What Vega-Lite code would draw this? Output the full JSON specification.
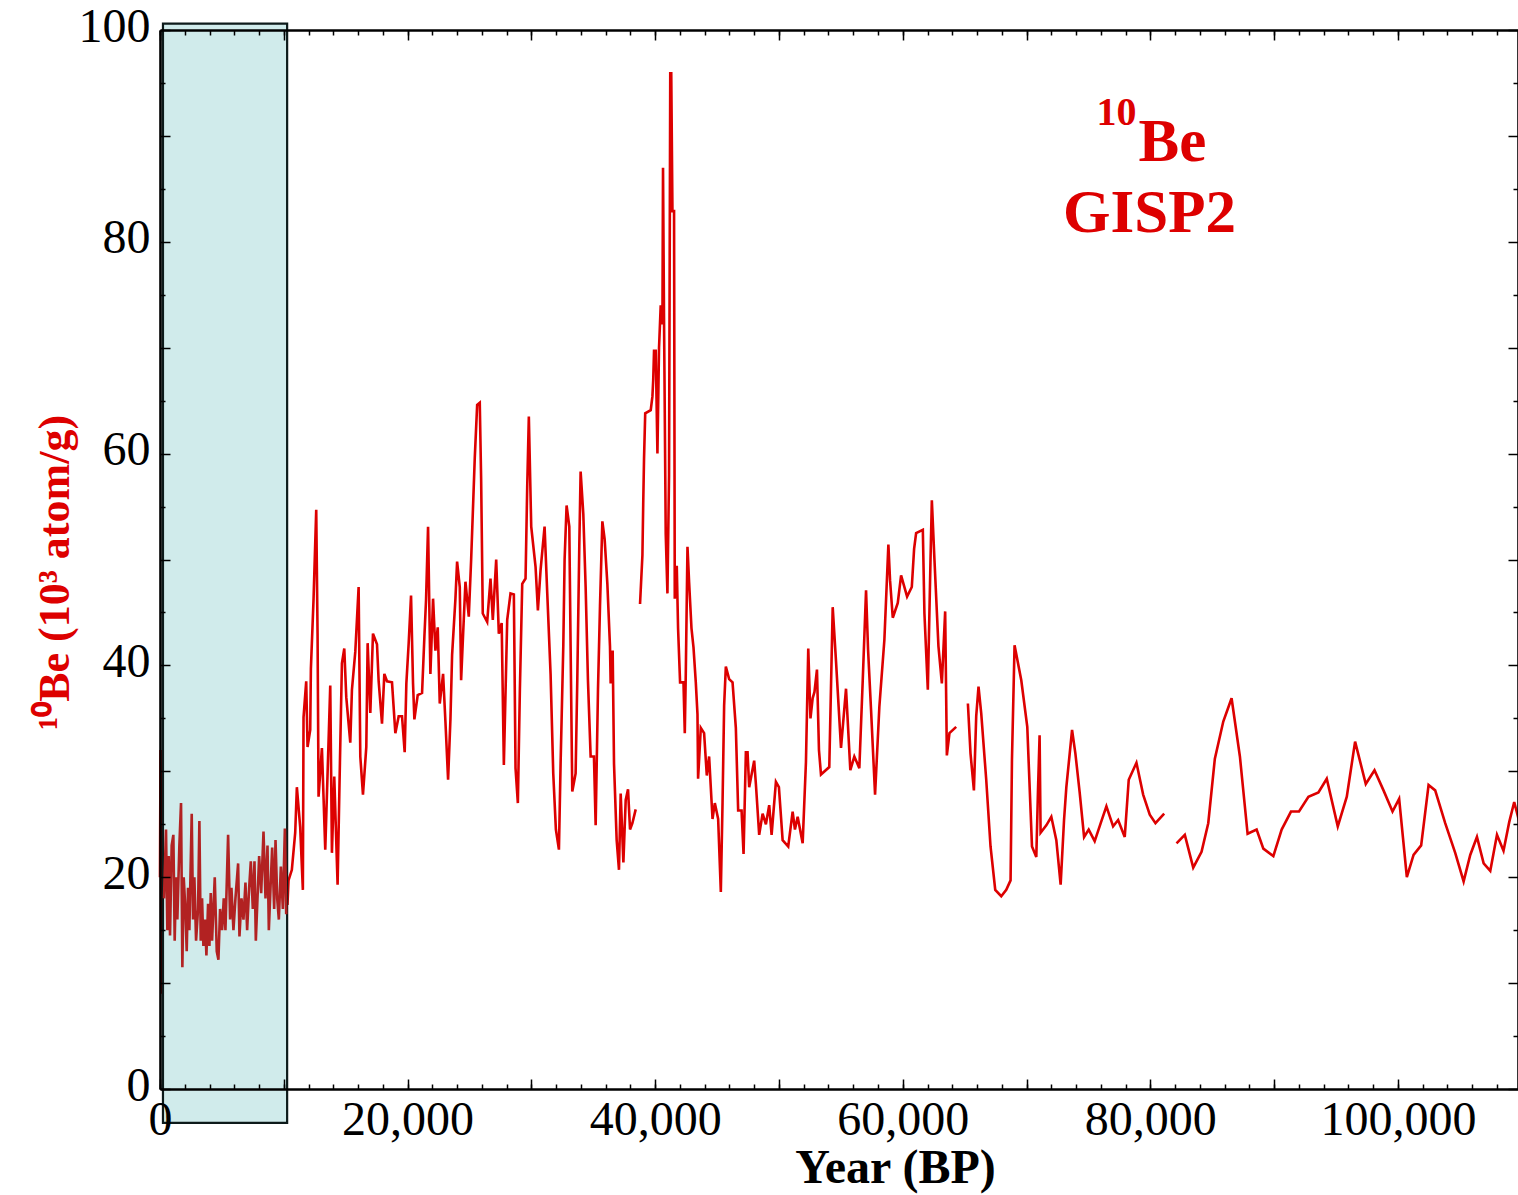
{
  "$schema": "https://vega.github.io/schema/vega-lite/v6.json",
  "width": 1358,
  "height": 1059,
  "autosize": {"type": "none"},
  "padding": {"left": 160, "top": 30, "right": 0, "bottom": 106},
  "background": "white",
  "config": {"view": {"stroke": null}},
  "datasets": {
    "gisp2": [
      {"year":0,"be":20,"seg":1},{"year":40,"be":32,"seg":1},{"year":80,"be":24,"seg":1},{"year":120,"be":9,"seg":1},{"year":160,"be":14,"seg":1},{"year":200,"be":18,"seg":1},{"year":5000,"be":18,"seg":1},{"year":10300,"be":17.5,"seg":1},
      {"year":10381,"be":19.7,"seg":1},{"year":10651,"be":20.7,"seg":1},{"year":10922,"be":24.2,"seg":1},{"year":11056,"be":28.5,"seg":1},{"year":11326,"be":24.7,"seg":1},{"year":11541,"be":18.8,"seg":1},{"year":11595,"be":35.1,"seg":1},{"year":11811,"be":38.5,"seg":1},{"year":11919,"be":32.3,"seg":1},{"year":12135,"be":33.9,"seg":1},{"year":12189,"be":39.7,"seg":1},{"year":12405,"be":46.3,"seg":1},{"year":12620,"be":54.7,"seg":1},{"year":12728,"be":43,"seg":1},{"year":12809,"be":27.6,"seg":1},{"year":13079,"be":32.2,"seg":1},{"year":13215,"be":27.4,"seg":1},{"year":13349,"be":22.6,"seg":1},{"year":13753,"be":38.1,"seg":1},{"year":13888,"be":22.3,"seg":1},{"year":14077,"be":29.5,"seg":1},{"year":14346,"be":19.3,"seg":1},{"year":14507,"be":29.2,"seg":1},{"year":14696,"be":40.2,"seg":1},{"year":14886,"be":41.6,"seg":1},{"year":15047,"be":37,"seg":1},{"year":15371,"be":32.7,"seg":1},{"year":15505,"be":37.7,"seg":1},{"year":15776,"be":41.3,"seg":1},{"year":16045,"be":47.4,"seg":1},{"year":16180,"be":31.4,"seg":1},{"year":16396,"be":27.8,"seg":1},{"year":16665,"be":32.3,"seg":1},{"year":16773,"be":42.1,"seg":1},{"year":16989,"be":35.5,"seg":1},{"year":17205,"be":43,"seg":1},{"year":17529,"be":42,"seg":1},{"year":17663,"be":38.5,"seg":1},{"year":17933,"be":34.5,"seg":1},{"year":18122,"be":39.2,"seg":1},{"year":18337,"be":38.5,"seg":1},{"year":18741,"be":38.4,"seg":1},{"year":19012,"be":33.6,"seg":1},{"year":19281,"be":35.2,"seg":1},{"year":19550,"be":35.2,"seg":1},{"year":19765,"be":31.8,"seg":1},{"year":19901,"be":38.3,"seg":1},{"year":20089,"be":42.1,"seg":1},{"year":20279,"be":46.6,"seg":1},{"year":20440,"be":38.3,"seg":1},{"year":20549,"be":34.9,"seg":1},{"year":20818,"be":37.2,"seg":1},{"year":21169,"be":37.4,"seg":1},{"year":21358,"be":42.7,"seg":1},{"year":21492,"be":46.2,"seg":1},{"year":21654,"be":53.1,"seg":1},{"year":21843,"be":39.2,"seg":1},{"year":22058,"be":46.3,"seg":1},{"year":22248,"be":41.4,"seg":1},{"year":22436,"be":43.6,"seg":1},{"year":22599,"be":36.4,"seg":1},{"year":22868,"be":39.2,"seg":1},{"year":23057,"be":34.7,"seg":1},{"year":23272,"be":29.2,"seg":1},{"year":23461,"be":34.9,"seg":1},{"year":23596,"be":41,"seg":1},{"year":23866,"be":46.3,"seg":1},{"year":24000,"be":49.8,"seg":1},{"year":24216,"be":47.4,"seg":1},{"year":24325,"be":38.6,"seg":1},{"year":24487,"be":43,"seg":1},{"year":24675,"be":47.9,"seg":1},{"year":24944,"be":44.6,"seg":1},{"year":25135,"be":50,"seg":1},{"year":25297,"be":55.3,"seg":1},{"year":25427,"be":59.6,"seg":1},{"year":25620,"be":64.6,"seg":1},{"year":25831,"be":64.8,"seg":1},{"year":25940,"be":57.7,"seg":1},{"year":26074,"be":44.9,"seg":1},{"year":26430,"be":44.1,"seg":1},{"year":26697,"be":48.2,"seg":1},{"year":26885,"be":44.3,"seg":1},{"year":27158,"be":50,"seg":1},{"year":27370,"be":43,"seg":1},{"year":27600,"be":44,"seg":1},{"year":27777,"be":30.6,"seg":1},{"year":28048,"be":44.3,"seg":1},{"year":28315,"be":46.8,"seg":1},{"year":28585,"be":46.7,"seg":1},{"year":28720,"be":30.3,"seg":1},{"year":28908,"be":27,"seg":1},{"year":29071,"be":37.7,"seg":1},{"year":29261,"be":47.7,"seg":1},{"year":29529,"be":48.2,"seg":1},{"year":29664,"be":56.9,"seg":1},{"year":29795,"be":63.5,"seg":1},{"year":29988,"be":53.1,"seg":1},{"year":30338,"be":49.3,"seg":1},{"year":30526,"be":45.2,"seg":1},{"year":30742,"be":49,"seg":1},{"year":31066,"be":53.1,"seg":1},{"year":31283,"be":46.8,"seg":1},{"year":31551,"be":39.2,"seg":1},{"year":31767,"be":29.8,"seg":1},{"year":31981,"be":24.5,"seg":1},{"year":32225,"be":22.6,"seg":1},{"year":32360,"be":30.7,"seg":1},{"year":32578,"be":41.8,"seg":1},{"year":32684,"be":50,"seg":1},{"year":32845,"be":55.1,"seg":1},{"year":33064,"be":53.1,"seg":1},{"year":33169,"be":41.8,"seg":1},{"year":33304,"be":28.1,"seg":1},{"year":33574,"be":29.8,"seg":1},{"year":33709,"be":38.6,"seg":1},{"year":33870,"be":51.2,"seg":1},{"year":33978,"be":58.3,"seg":1},{"year":34195,"be":54.3,"seg":1},{"year":34383,"be":47.4,"seg":1},{"year":34570,"be":38.6,"seg":1},{"year":34787,"be":31.4,"seg":1},{"year":35055,"be":31.4,"seg":1},{"year":35192,"be":24.9,"seg":1},{"year":35381,"be":37.7,"seg":1},{"year":35543,"be":45.6,"seg":1},{"year":35734,"be":53.6,"seg":1},{"year":35920,"be":51.9,"seg":1},{"year":36138,"be":47.7,"seg":1},{"year":36350,"be":41.8,"seg":1},{"year":36405,"be":38.3,"seg":1},{"year":36567,"be":41.4,"seg":1},{"year":36676,"be":30.7,"seg":1},{"year":36890,"be":23.5,"seg":1},{"year":37077,"be":20.7,"seg":1},{"year":37214,"be":27.9,"seg":1},{"year":37432,"be":21.4,"seg":1},{"year":37620,"be":27.3,"seg":1},{"year":37807,"be":28.3,"seg":1},{"year":37970,"be":24.5,"seg":1},{"year":38160,"be":25.1,"seg":1},{"year":38428,"be":26.4,"seg":1},
      {"year":38777,"be":45.8,"seg":2},{"year":38970,"be":50.4,"seg":2},{"year":39034,"be":55.2,"seg":2},{"year":39100,"be":59.5,"seg":2},{"year":39196,"be":63.8,"seg":2},{"year":39641,"be":64.1,"seg":2},{"year":39778,"be":65.4,"seg":2},{"year":39843,"be":67,"seg":2},{"year":39908,"be":69.7,"seg":2},{"year":40046,"be":69.7,"seg":2},{"year":40183,"be":60,"seg":2},{"year":40312,"be":70,"seg":2},{"year":40448,"be":74,"seg":2},{"year":40586,"be":72.2,"seg":2},{"year":40634,"be":87,"seg":2},{"year":40715,"be":72.8,"seg":2},{"year":40853,"be":52.4,"seg":2},{"year":40991,"be":46.8,"seg":2},{"year":41121,"be":58,"seg":2},{"year":41218,"be":95.9,"seg":2},{"year":41299,"be":95.9,"seg":2},{"year":41396,"be":82.9,"seg":2},{"year":41526,"be":82.9,"seg":2},{"year":41583,"be":46.3,"seg":2},{"year":41745,"be":49.4,"seg":2},{"year":41850,"be":43.5,"seg":2},{"year":42012,"be":38.4,"seg":2},{"year":42287,"be":38.4,"seg":2},{"year":42392,"be":33.6,"seg":2},{"year":42473,"be":39.2,"seg":2},{"year":42610,"be":51.2,"seg":2},{"year":42740,"be":47.9,"seg":2},{"year":42934,"be":43.5,"seg":2},{"year":43096,"be":41.7,"seg":2},{"year":43282,"be":38.4,"seg":2},{"year":43418,"be":35.4,"seg":2},{"year":43467,"be":29.3,"seg":2},{"year":43686,"be":34.1,"seg":2},{"year":43953,"be":33.6,"seg":2},{"year":44171,"be":29.6,"seg":2},{"year":44358,"be":31.4,"seg":2},{"year":44633,"be":25.5,"seg":2},{"year":44819,"be":27,"seg":2},{"year":45087,"be":25.5,"seg":2},{"year":45304,"be":18.6,"seg":2},{"year":45442,"be":27,"seg":2},{"year":45571,"be":36.2,"seg":2},{"year":45709,"be":39.9,"seg":2},{"year":45976,"be":38.7,"seg":2},{"year":46251,"be":38.4,"seg":2},{"year":46517,"be":34.1,"seg":2},{"year":46704,"be":26.3,"seg":2},{"year":46979,"be":26.3,"seg":2},{"year":47140,"be":22.2,"seg":2},{"year":47327,"be":31.8,"seg":2},{"year":47463,"be":31.8,"seg":2},{"year":47594,"be":28.5,"seg":2},{"year":47999,"be":31,"seg":2},{"year":48136,"be":28.8,"seg":2},{"year":48403,"be":24,"seg":2},{"year":48678,"be":26,"seg":2},{"year":48945,"be":25,"seg":2},{"year":49212,"be":26.8,"seg":2},{"year":49406,"be":24,"seg":2},{"year":49754,"be":29,"seg":2},{"year":49996,"be":28.5,"seg":2},{"year":50296,"be":23.5,"seg":2},{"year":50749,"be":22.9,"seg":2},{"year":51105,"be":26.2,"seg":2},{"year":51291,"be":24.5,"seg":2},{"year":51510,"be":25.7,"seg":2},{"year":51914,"be":23.2,"seg":2},{"year":52181,"be":30.9,"seg":2},{"year":52367,"be":41.6,"seg":2},{"year":52545,"be":35,"seg":2},{"year":52723,"be":36.9,"seg":2},{"year":52869,"be":37.5,"seg":2},{"year":53070,"be":39.6,"seg":2},{"year":53232,"be":32,"seg":2},{"year":53394,"be":29.7,"seg":2},{"year":54065,"be":30.4,"seg":2},{"year":54341,"be":45.5,"seg":2},{"year":54608,"be":40.4,"seg":2},{"year":55012,"be":32.2,"seg":2},{"year":55417,"be":37.8,"seg":2},{"year":55765,"be":30.1,"seg":2},{"year":56088,"be":31.4,"seg":2},{"year":56493,"be":30.3,"seg":2},{"year":56768,"be":38.6,"seg":2},{"year":57035,"be":47.1,"seg":2},{"year":57197,"be":41.5,"seg":2},{"year":57439,"be":35.8,"seg":2},{"year":57763,"be":27.8,"seg":2},{"year":58111,"be":36.1,"seg":2},{"year":58515,"be":42.4,"seg":2},{"year":58839,"be":51.4,"seg":2},{"year":58976,"be":48,"seg":2},{"year":59194,"be":44.5,"seg":2},{"year":59598,"be":45.9,"seg":2},{"year":59866,"be":48.5,"seg":2},{"year":60351,"be":46.5,"seg":2},{"year":60731,"be":47.4,"seg":2},{"year":60917,"be":51,"seg":2},{"year":61080,"be":52.5,"seg":2},{"year":61622,"be":52.8,"seg":2},{"year":61751,"be":44.9,"seg":2},{"year":62026,"be":37.7,"seg":2},{"year":62237,"be":49.7,"seg":2},{"year":62350,"be":55.6,"seg":2},{"year":62560,"be":50,"seg":2},{"year":62884,"be":41.8,"seg":2},{"year":63159,"be":38.3,"seg":2},{"year":63426,"be":45.1,"seg":2},{"year":63563,"be":31.5,"seg":2},{"year":63773,"be":33.6,"seg":2},{"year":64316,"be":34.2,"seg":2},
      {"year":65262,"be":36.4,"seg":3},{"year":65473,"be":31.7,"seg":3},{"year":65748,"be":28.2,"seg":3},{"year":65934,"be":35.2,"seg":3},{"year":66120,"be":38,"seg":3},{"year":66338,"be":35.5,"seg":3},{"year":66743,"be":29.2,"seg":3},{"year":67091,"be":22.9,"seg":3},{"year":67471,"be":18.8,"seg":3},{"year":67956,"be":18.2,"seg":3},{"year":68361,"be":18.8,"seg":3},{"year":68709,"be":19.7,"seg":3},{"year":68822,"be":31.1,"seg":3},{"year":69032,"be":41.9,"seg":3},{"year":69574,"be":38.6,"seg":3},{"year":70059,"be":34.2,"seg":3},{"year":70440,"be":22.9,"seg":3},{"year":70788,"be":21.9,"seg":3},{"year":70925,"be":28.2,"seg":3},{"year":71054,"be":33.4,"seg":3},{"year":71135,"be":24.2,"seg":3},{"year":71597,"be":24.9,"seg":3},{"year":72001,"be":25.7,"seg":3},{"year":72406,"be":23.5,"seg":3},{"year":72754,"be":19.3,"seg":3},{"year":73029,"be":25.4,"seg":3},{"year":73215,"be":28.5,"seg":3},{"year":73677,"be":33.9,"seg":3},{"year":73944,"be":31.7,"seg":3},{"year":74291,"be":28,"seg":3},{"year":74648,"be":23.8,"seg":3},{"year":75020,"be":24.5,"seg":3},{"year":75505,"be":23.4,"seg":3},{"year":75991,"be":25.1,"seg":3},{"year":76451,"be":26.7,"seg":3},{"year":76993,"be":24.8,"seg":3},{"year":77398,"be":25.4,"seg":3},{"year":77932,"be":23.8,"seg":3},{"year":78255,"be":29.2,"seg":3},{"year":78878,"be":30.8,"seg":3},{"year":79420,"be":27.8,"seg":3},{"year":79954,"be":25.9,"seg":3},{"year":80415,"be":25.1,"seg":3},{"year":81119,"be":26,"seg":3},
      {"year":82114,"be":23.2,"seg":4},{"year":82785,"be":24,"seg":4},{"year":83465,"be":20.9,"seg":4},{"year":84136,"be":22.4,"seg":4},{"year":84678,"be":25.1,"seg":4},{"year":85212,"be":31.2,"seg":4},{"year":85892,"be":34.7,"seg":4},{"year":86563,"be":36.9,"seg":4},{"year":87235,"be":31.4,"seg":4},{"year":87857,"be":24.1,"seg":4},{"year":88586,"be":24.5,"seg":4},{"year":89128,"be":22.7,"seg":4},{"year":89937,"be":22,"seg":4},{"year":90608,"be":24.5,"seg":4},{"year":91362,"be":26.2,"seg":4},{"year":92009,"be":26.2,"seg":4},{"year":92770,"be":27.6,"seg":4},{"year":93579,"be":28,"seg":4},{"year":94251,"be":29.3,"seg":4},{"year":95141,"be":24.8,"seg":4},{"year":95870,"be":27.6,"seg":4},{"year":96541,"be":32.8,"seg":4},{"year":97404,"be":28.8,"seg":4},{"year":98108,"be":30.1,"seg":4},{"year":98836,"be":28.2,"seg":4},{"year":99564,"be":26.2,"seg":4},{"year":100098,"be":27.4,"seg":4},{"year":100721,"be":20,"seg":4},{"year":101263,"be":22.1,"seg":4},{"year":101877,"be":23,"seg":4},{"year":102476,"be":28.7,"seg":4},{"year":103010,"be":28.2,"seg":4},{"year":103819,"be":25.1,"seg":4},{"year":104628,"be":22.3,"seg":4},{"year":105308,"be":19.6,"seg":4},{"year":105842,"be":22.1,"seg":4},{"year":106384,"be":23.8,"seg":4},{"year":106926,"be":21.3,"seg":4},{"year":107460,"be":20.6,"seg":4},{"year":108002,"be":24,"seg":4},{"year":108530,"be":22.5,"seg":4},{"year":108990,"be":25.2,"seg":4},{"year":109394,"be":27.1,"seg":4},{"year":109900,"be":24.8,"seg":4}
    ],
    "holocene": [
      {"year":324,"be":18},{"year":486,"be":24.5},{"year":594,"be":15},{"year":700,"be":22},{"year":810,"be":14.5},{"year":944,"be":23},{"year":1079,"be":24},{"year":1187,"be":14},{"year":1295,"be":20},{"year":1402,"be":16},{"year":1564,"be":23},{"year":1699,"be":27},{"year":1807,"be":11.5},{"year":1915,"be":20},{"year":2050,"be":17},{"year":2158,"be":13},{"year":2265,"be":19},{"year":2373,"be":15},{"year":2562,"be":26},{"year":2670,"be":16},{"year":2778,"be":20},{"year":2913,"be":14},{"year":3074,"be":17},{"year":3182,"be":25.3},{"year":3290,"be":14},{"year":3398,"be":18},{"year":3506,"be":13.5},{"year":3641,"be":16},{"year":3749,"be":12.6},{"year":3884,"be":17.5},{"year":3991,"be":13.5},{"year":4099,"be":18.5},{"year":4207,"be":14},{"year":4423,"be":20},{"year":4585,"be":13},{"year":4720,"be":12.2},{"year":4854,"be":17},{"year":5016,"be":15},{"year":5151,"be":18},{"year":5286,"be":15},{"year":5502,"be":24},{"year":5664,"be":16},{"year":5771,"be":19},{"year":5933,"be":15},{"year":6095,"be":18},{"year":6311,"be":21.3},{"year":6419,"be":14.4},{"year":6581,"be":18},{"year":6743,"be":16},{"year":6904,"be":19.5},{"year":7039,"be":15},{"year":7201,"be":19},{"year":7336,"be":21.5},{"year":7498,"be":17},{"year":7633,"be":21.5},{"year":7741,"be":14},{"year":7875,"be":18},{"year":8010,"be":22},{"year":8172,"be":18.5},{"year":8361,"be":24.3},{"year":8523,"be":18},{"year":8684,"be":23},{"year":8792,"be":15},{"year":8927,"be":19},{"year":9062,"be":22.8},{"year":9224,"be":17},{"year":9332,"be":23.5},{"year":9467,"be":18},{"year":9601,"be":16},{"year":9763,"be":21},{"year":9925,"be":17},{"year":10087,"be":24.6},{"year":10195,"be":16.5}
    ],
    "box": [{"start":240,"end":10270,"low":-3.2,"high":100.6}],
    "bigText": [{"label":"Be","year":81776,"be":87.6},{"label":"GISP2","year":79929,"be":80.9}],
    "smallText": [{"label":"10","year":77260,"be":91.0}]
  },
  "resolve": {"axis": {"x": "independent", "y": "independent"}},
  "layer": [
    {
      "data": {"name": "gisp2"},
      "mark": {"type": "line", "color": "#dd0000", "strokeWidth": 2.6, "interpolate": "linear"},
      "encoding": {
        "x": {"field": "year", "type": "quantitative", "scale": {"domain": [0, 109700], "nice": false, "zero": false},
          "axis": {"orient": "bottom", "values": [0,20000,40000,60000,80000,100000], "format": ",d", "ticks": false, "domain": true, "domainColor": "black", "domainWidth": 2.6, "grid": false, "labelFont": "Liberation Serif", "labelFontSize": 48, "labelColor": "black", "labelPadding": 7, "labelFlush": false, "labelOverlap": false, "labelAlign": "center", "labelBaseline": "top", "title": "Year (BP)", "titleFont": "Liberation Serif", "titleFontSize": 48, "titleFontWeight": "bold", "titleColor": "black", "titleX": 735, "titleY": 93, "titleAlign": "center", "titleBaseline": "alphabetic", "zindex": 1}},
        "y": {"field": "be", "type": "quantitative", "scale": {"domain": [0, 100], "nice": false, "zero": false},
          "axis": {"orient": "left", "values": [0,20,40,60,80,100], "format": "d", "ticks": false, "domain": true, "domainColor": "black", "domainWidth": 2.6, "grid": false, "labelFont": "Liberation Serif", "labelFontSize": 48, "labelColor": "black", "labelPadding": 10, "labelOffset": -3, "labelBaseline": "middle", "labelAlign": "right", "labelOverlap": false, "title": "¹⁰Be (10³ atom/g)", "titleFont": "Liberation Serif", "titleFontSize": 44, "titleFontWeight": "bold", "titleColor": "#dd0000", "titleAngle": 270, "titleX": -92, "titleY": 542, "titleAlign": "center", "titleBaseline": "alphabetic", "zindex": 1}},
        "detail": {"field": "seg", "type": "nominal"}
      }
    },
    {
      "data": {"name": "box"},
      "mark": {"type": "rect", "fill": "#d0ebeb", "stroke": "#0d1a1a", "strokeWidth": 2.2, "clip": false},
      "encoding": {
        "x": {"field": "start", "type": "quantitative",
          "axis": {"orient": "bottom", "values": [0,10000,20000,30000,40000,50000,60000,70000,80000,90000,100000], "labels": false, "domain": false, "ticks": true, "tickSize": -10, "tickWidth": 1.5, "tickColor": "black", "grid": false, "title": null, "zindex": 1}},
        "x2": {"field": "end"},
        "y": {"field": "low", "type": "quantitative",
          "axis": {"orient": "left", "values": [0,10,20,30,40,50,60,70,80,90,100], "labels": false, "domain": false, "ticks": true, "tickSize": -10, "tickWidth": 1.5, "tickColor": "black", "grid": false, "title": null, "zindex": 1}},
        "y2": {"field": "high"}
      }
    },
    {
      "data": {"name": "holocene"},
      "mark": {"type": "line", "color": "#b22222", "strokeWidth": 2.6, "interpolate": "linear"},
      "encoding": {
        "x": {"field": "year", "type": "quantitative",
          "axis": {"orient": "bottom", "values": [0,2000,4000,6000,8000,10000,12000,14000,16000,18000,20000,22000,24000,26000,28000,30000,32000,34000,36000,38000,40000,42000,44000,46000,48000,50000,52000,54000,56000,58000,60000,62000,64000,66000,68000,70000,72000,74000,76000,78000,80000,82000,84000,86000,88000,90000,92000,94000,96000,98000,100000,102000,104000,106000,108000], "labels": false, "domain": false, "ticks": true, "tickSize": -5, "tickWidth": 1.5, "tickColor": "black", "grid": false, "title": null, "zindex": 1}},
        "y": {"field": "be", "type": "quantitative",
          "axis": {"orient": "left", "values": [5,15,25,35,45,55,65,75,85,95], "labels": false, "domain": false, "ticks": true, "tickSize": -5, "tickWidth": 1.5, "tickColor": "black", "grid": false, "title": null, "zindex": 1}}
      }
    },
    {
      "data": {"name": "bigText"},
      "mark": {"type": "text", "font": "Liberation Serif", "fontWeight": "bold", "fontSize": 61, "color": "#dd0000", "align": "center", "baseline": "alphabetic"},
      "encoding": {
        "x": {"field": "year", "type": "quantitative",
          "axis": {"orient": "top", "values": [0,10000,20000,30000,40000,50000,60000,70000,80000,90000,100000], "labels": false, "domain": true, "domainColor": "black", "domainWidth": 2.6, "ticks": true, "tickSize": -10, "tickWidth": 1.5, "tickColor": "black", "grid": false, "title": null, "zindex": 1}},
        "y": {"field": "be", "type": "quantitative",
          "axis": {"orient": "right", "values": [0,10,20,30,40,50,60,70,80,90,100], "labels": false, "domain": true, "domainColor": "black", "domainWidth": 2.6, "ticks": true, "tickSize": -10, "tickWidth": 1.5, "tickColor": "black", "grid": false, "title": null, "zindex": 1}},
        "text": {"field": "label"}
      }
    },
    {
      "data": {"name": "smallText"},
      "mark": {"type": "text", "font": "Liberation Serif", "fontWeight": "bold", "fontSize": 40, "color": "#dd0000", "align": "center", "baseline": "alphabetic"},
      "encoding": {
        "x": {"field": "year", "type": "quantitative",
          "axis": {"orient": "top", "values": [0,2000,4000,6000,8000,10000,12000,14000,16000,18000,20000,22000,24000,26000,28000,30000,32000,34000,36000,38000,40000,42000,44000,46000,48000,50000,52000,54000,56000,58000,60000,62000,64000,66000,68000,70000,72000,74000,76000,78000,80000,82000,84000,86000,88000,90000,92000,94000,96000,98000,100000,102000,104000,106000,108000], "labels": false, "domain": false, "ticks": true, "tickSize": -5, "tickWidth": 1.5, "tickColor": "black", "grid": false, "title": null, "zindex": 1}},
        "y": {"field": "be", "type": "quantitative",
          "axis": {"orient": "right", "values": [5,15,25,35,45,55,65,75,85,95], "labels": false, "domain": false, "ticks": true, "tickSize": -5, "tickWidth": 1.5, "tickColor": "black", "grid": false, "title": null, "zindex": 1}},
        "text": {"field": "label"}
      }
    }
  ]
}
